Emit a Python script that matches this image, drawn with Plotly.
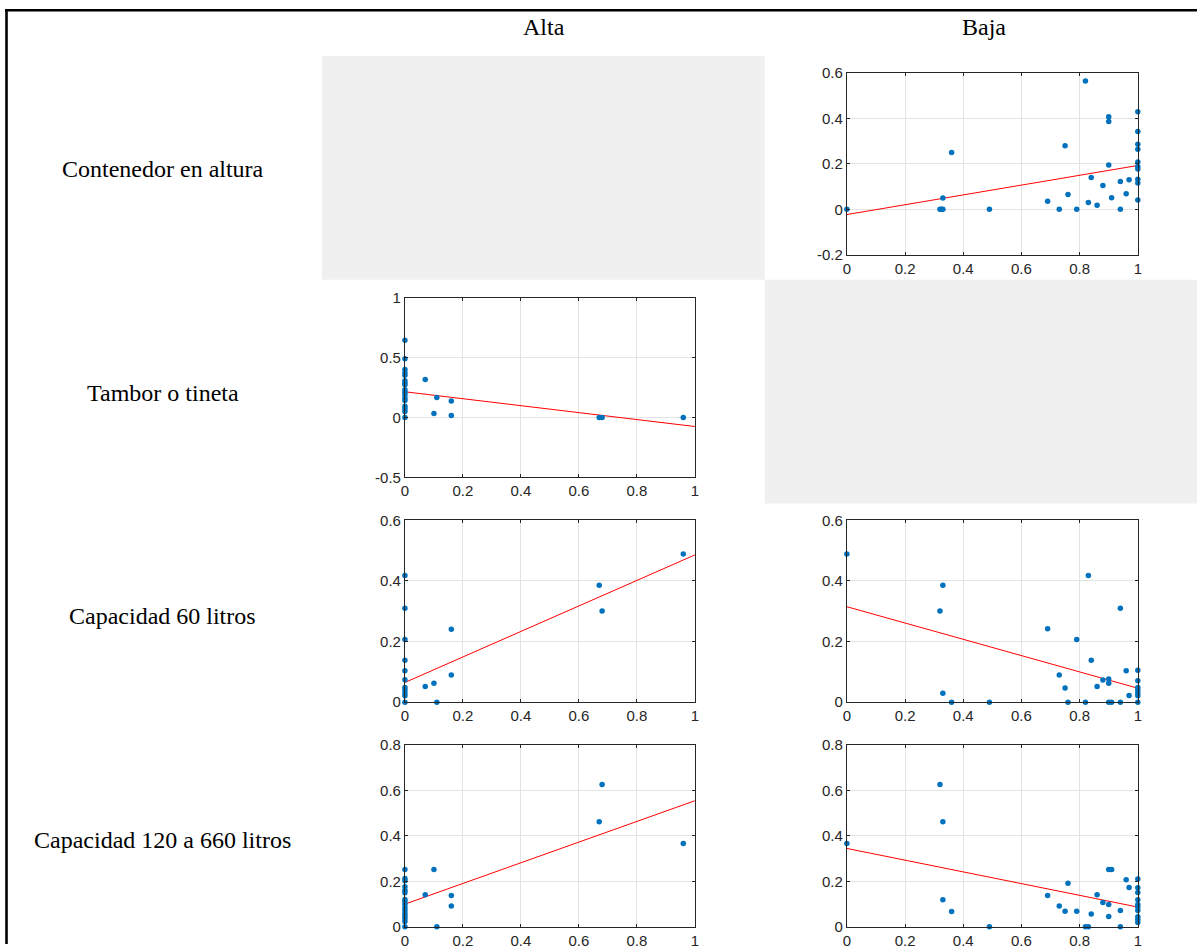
import plotly.graph_objects as go

W, H = 1201, 952

col_headers = ["Alta", "Baja"]
row_labels = ["Contenedor en altura", "Tambor o tineta", "Capacidad 60 litros", "Capacidad 120 a 660 litros"]

# Row 1, Baja
bx1 = [0, 0.32, 0.325, 0.33, 0.33, 0.36, 0.49, 0.69, 0.73, 0.75, 0.76, 0.79, 0.82, 0.83, 0.84, 0.86, 0.88,
       0.90, 0.90, 0.90, 0.91, 0.94, 0.94, 0.96, 0.97, 1, 1, 1, 1, 1, 1, 1, 1, 1, 1]
by1 = [0, 0, 0, 0, 0.05, 0.25, 0, 0.035, 0, 0.28, 0.065, 0, 0.565, 0.03, 0.14, 0.018, 0.105,
       0.407, 0.387, 0.195, 0.051, 0.122, 0, 0.069, 0.13, 0.429, 0.343, 0.286, 0.264, 0.208, 0.189, 0.177, 0.132, 0.116, 0.041]
fit_b1 = (-0.023, 0.216)

# Row 2, Alta
ax2 = [0, 0, 0, 0, 0, 0, 0, 0, 0, 0, 0, 0, 0, 0, 0, 0, 0, 0.07, 0.10, 0.11, 0.16, 0.16, 0.67, 0.68, 0.96]
ay2 = [0.645, 0.49, 0.40, 0.374, 0.352, 0.307, 0.288, 0.274, 0.232, 0.212, 0.19, 0.162, 0.142, 0.095, 0.073, 0.05, 0,
       0.318, 0.034, 0.168, 0.137, 0.017, 0, 0, 0]
fit_a2 = (0.215, -0.29)

# Row 3, Alta
ax3 = [0, 0, 0, 0, 0, 0, 0, 0, 0, 0, 0, 0.07, 0.10, 0.11, 0.16, 0.16, 0.67, 0.68, 0.96]
ay3 = [0.418, 0.31, 0.207, 0.138, 0.104, 0.074, 0.048, 0.04, 0.03, 0.021, 0, 0.052, 0.062, 0, 0.241, 0.09, 0.386, 0.301, 0.489]
fit_a3 = (0.065, 0.421)

# Row 3, Baja
bx3 = [0, 0.32, 0.33, 0.33, 0.36, 0.49, 0.69, 0.73, 0.75, 0.76, 0.79, 0.82, 0.83, 0.84, 0.86, 0.88, 0.90, 0.90, 0.90,
       0.91, 0.94, 0.94, 0.96, 0.97, 1, 1, 1, 1, 1, 1, 1]
by3 = [0.489, 0.301, 0.386, 0.029, 0, 0, 0.242, 0.09, 0.047, 0, 0.207, 0, 0.418, 0.138, 0.052, 0.073, 0.076, 0.062, 0,
       0, 0.31, 0, 0.104, 0.022, 0.105, 0.071, 0.048, 0.04, 0.03, 0.021, 0]
fit_b3 = (0.315, -0.269)

# Row 4, Alta
ax4 = [0, 0, 0, 0, 0, 0, 0, 0, 0, 0, 0, 0, 0, 0, 0, 0, 0.07, 0.10, 0.11, 0.16, 0.16, 0.67, 0.68, 0.96]
ay4 = [0.252, 0.213, 0.203, 0.176, 0.161, 0.15, 0.12, 0.11, 0.098, 0.084, 0.072, 0.059, 0.048, 0.037, 0.023, 0,
       0.141, 0.252, 0, 0.138, 0.092, 0.462, 0.627, 0.367]
fit_a4 = (0.1, 0.455)

# Row 4, Baja
bx4 = [0, 0.32, 0.33, 0.33, 0.36, 0.49, 0.69, 0.73, 0.75, 0.76, 0.79, 0.82, 0.83, 0.84, 0.86, 0.88, 0.90, 0.91, 0.90, 0.90,
       0.94, 0.94, 0.96, 0.97, 1, 1, 1, 1, 1, 1, 1, 1, 1, 1]
by4 = [0.367, 0.627, 0.462, 0.119, 0.068, 0, 0.138, 0.092, 0.069, 0.192, 0.069, 0, 0, 0.057, 0.141, 0.107, 0.252, 0.252, 0.098, 0.046,
       0.072, 0, 0.207, 0.173, 0.211, 0.172, 0.151, 0.119, 0.098, 0.087, 0.072, 0.044, 0.032, 0.019]
fit_b4 = (0.345, -0.258)

x_ticks = [0, 0.2, 0.4, 0.6, 0.8, 1]
x_ticktext = ["0", "0.2", "0.4", "0.6", "0.8", "1"]
y_ticks_r1 = [-0.2, 0, 0.2, 0.4, 0.6]
y_text_r1 = ["-0.2", "0", "0.2", "0.4", "0.6"]
y_ticks_r2 = [-0.5, 0, 0.5, 1]
y_text_r2 = ["-0.5", "0", "0.5", "1"]
y_ticks_r3 = [0, 0.2, 0.4, 0.6]
y_text_r3 = ["0", "0.2", "0.4", "0.6"]
y_ticks_r4 = [0, 0.2, 0.4, 0.6, 0.8]
y_text_r4 = ["0", "0.2", "0.4", "0.6", "0.8"]


# target positions (pixels in the photographed page) -> figure paper fractions
def fx(px):
    return min(max((px - 4.0) / 0.9935 / W, 0.0), 1.0)


def fy(py):
    return min(max(1 - (py - 7.9) / 0.9835 / H, 0.0), 1.0)


col_px = {"Alta": (405, 695), "Baja": (847, 1138)}
row_px = [(72, 254), (297, 477), (520, 702), (745, 927)]

panels = [
    ("Baja", 0, bx1, by1, fit_b1, (-0.2, 0.6), y_ticks_r1, y_text_r1),
    ("Alta", 1, ax2, ay2, fit_a2, (-0.5, 1), y_ticks_r2, y_text_r2),
    ("Alta", 2, ax3, ay3, fit_a3, (0, 0.6), y_ticks_r3, y_text_r3),
    ("Baja", 2, bx3, by3, fit_b3, (0, 0.6), y_ticks_r3, y_text_r3),
    ("Alta", 3, ax4, ay4, fit_a4, (0, 0.8), y_ticks_r4, y_text_r4),
    ("Baja", 3, bx4, by4, fit_b4, (0, 0.8), y_ticks_r4, y_text_r4),
]

fig = go.Figure()
tick_font = dict(family="Liberation Sans, Arial", size=15, color="#262626")
layout_axes = {}
for i, (col, row, xs, ys, fit, yr, yt, ytt) in enumerate(panels, start=1):
    xa = "x" if i == 1 else f"x{i}"
    ya = "y" if i == 1 else f"y{i}"
    x0, x1 = col_px[col]
    y0, y1 = row_px[row]
    layout_axes["xaxis" if i == 1 else f"xaxis{i}"] = dict(
        domain=[fx(x0), fx(x1)], anchor=ya, range=[0, 1], tickvals=x_ticks, ticktext=x_ticktext,
        showgrid=True, gridcolor="#e3e3e3", gridwidth=1, zeroline=False,
        showline=True, linecolor="#262626", linewidth=1, mirror="ticks",
        ticks="inside", ticklen=3, tickcolor="#262626", tickfont=tick_font, fixedrange=True)
    layout_axes["yaxis" if i == 1 else f"yaxis{i}"] = dict(
        domain=[fy(y1), fy(y0)], anchor=xa, range=list(yr), tickvals=yt, ticktext=ytt,
        showgrid=True, gridcolor="#e3e3e3", gridwidth=1, zeroline=False,
        showline=True, linecolor="#262626", linewidth=1, mirror="ticks",
        ticks="inside", ticklen=3, tickcolor="#262626", tickfont=tick_font, fixedrange=True)
    b0, b1 = fit
    fig.add_trace(go.Scatter(x=[0, 1], y=[b0, b0 + b1], mode="lines", line=dict(color="#ff0000", width=1),
                             xaxis=xa, yaxis=ya, showlegend=False, cliponaxis=True, hoverinfo="skip"))
    fig.add_trace(go.Scatter(x=xs, y=ys, mode="markers", marker=dict(color="#0072BD", size=5.5),
                             xaxis=xa, yaxis=ya, showlegend=False, cliponaxis=False))

top_line_y = 1 - 1.3 / H
shapes = [
    dict(type="rect", xref="paper", yref="paper", x0=fx(322), x1=fx(765), y0=fy(279), y1=fy(55),
         fillcolor="#f0f0f0", line=dict(width=0), layer="below"),
    dict(type="rect", xref="paper", yref="paper", x0=fx(765), x1=1, y0=fy(503), y1=fy(279),
         fillcolor="#f0f0f0", line=dict(width=0), layer="below"),
    dict(type="line", xref="paper", yref="paper", x0=fx(5), x1=1, y0=top_line_y, y1=top_line_y,
         line=dict(color="black", width=2.6)),
    dict(type="line", xref="paper", yref="paper", x0=fx(6.5), x1=fx(6.5), y0=0, y1=top_line_y,
         line=dict(color="black", width=2.6)),
]

serif = dict(family="Liberation Serif, Times New Roman", size=24, color="black")
annotations = []
for name, cx in zip(col_headers, [544, 984]):
    annotations.append(dict(text=name, x=fx(cx), y=fy(26), xref="paper", yref="paper",
                            xanchor="center", yanchor="middle", showarrow=False, font=serif))
for name, cy in zip(row_labels, [168, 392, 616, 840]):
    annotations.append(dict(text=name, x=fx(163), y=fy(cy), xref="paper", yref="paper",
                            xanchor="center", yanchor="middle", showarrow=False, font=serif))

fig.update_layout(width=W, height=H, margin=dict(l=0, r=0, t=0, b=0), paper_bgcolor="white",
                  plot_bgcolor="white", shapes=shapes, annotations=annotations, showlegend=False,
                  **layout_axes)

fig.write_html("out.html", config={"displayModeBar": False},
               post_script="document.body.style.margin='0';document.body.style.padding='0';"
                           "document.documentElement.style.overflow='hidden';"
                           "var gd=document.getElementById('{plot_id}');"
                           "gd.style.position='fixed';gd.style.left='0px';gd.style.top='0px';")
